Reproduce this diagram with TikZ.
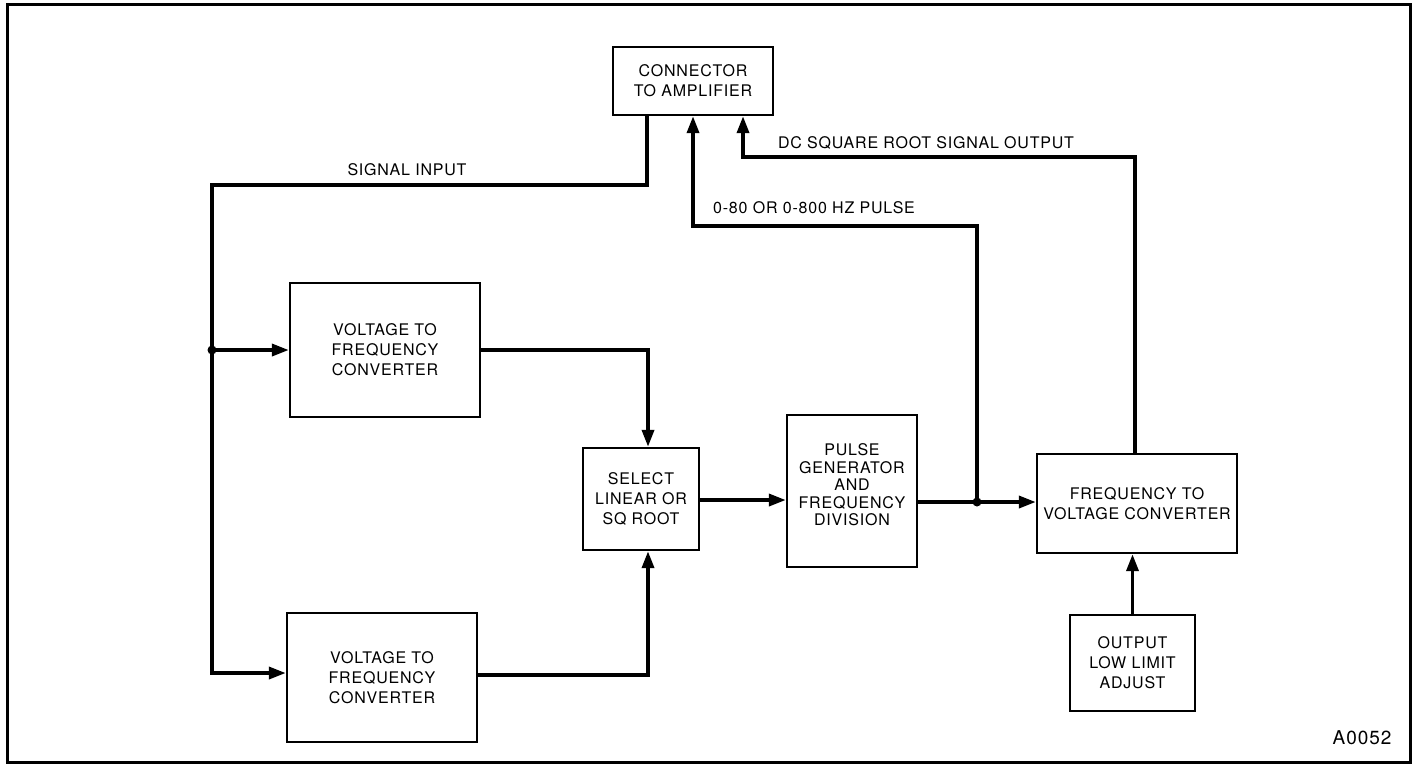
\documentclass[tikz,border=0pt]{standalone}
\usepackage{fontspec}
\setmainfont{TeX Gyre Heros}[LetterSpace=5]
\usetikzlibrary{arrows.meta,calc}
\begin{document}
\begin{tikzpicture}[x=1pt,y=-1pt,
  blk/.style={draw,line width=2.4pt,rectangle,inner sep=0pt,align=center,font=\fontsize{16}{20}\selectfont},
  wire/.style={line width=3.6pt,line join=miter},
  arr/.style={wire,-{Triangle[length=17pt,width=12pt]}},
  lbl/.style={font=\fontsize{16}{20}\selectfont,inner sep=0pt},
  dot/.style={circle,fill,inner sep=0pt,minimum size=9pt}]
\useasboundingbox (0,0) rectangle (1421,769);
\draw[line width=3pt] (7,4) rectangle (1410,762);
% blocks
\node[blk,minimum width=160pt,minimum height=68pt] (conn) at (693,81) {CONNECTOR\\TO AMPLIFIER};
\node[blk,minimum width=190pt,minimum height=134pt] (vfc1) at (385,350) {VOLTAGE TO\\FREQUENCY\\CONVERTER};
\node[blk,minimum width=190pt,minimum height=129pt] (vfc2) at (382,677.5) {VOLTAGE TO\\FREQUENCY\\CONVERTER};
\node[blk,minimum width=116pt,minimum height=102pt] (sel) at (641,499) {SELECT\\LINEAR OR\\SQ ROOT};
\node[blk,minimum width=130pt,minimum height=152pt] (pg) at (852,491) {};
\node[lbl,align=center,font=\fontsize{16}{17.5}\selectfont] (pgt) at (852,485) {PULSE\\GENERATOR\\AND\\FREQUENCY\\DIVISION};
\node[blk,minimum width=200pt,minimum height=99pt] (fvc) at (1137,503.5) {FREQUENCY TO\\VOLTAGE CONVERTER};
\node[blk,minimum width=125pt,minimum height=96pt] (olla) at (1132.5,663) {OUTPUT\\LOW LIMIT\\ADJUST};
% labels
\node[lbl] (lsig) at (407,170) {SIGNAL INPUT};
\node[lbl] (lpul) at (814,208) {0-80 OR 0-800 HZ PULSE};
\node[lbl] (ldc) at (926,143) {DC SQUARE ROOT SIGNAL OUTPUT};
\node[lbl,font=\fontsize{19}{22}\selectfont] (code) at (1362,738) {A0052};
% junctions
\coordinate (jin) at (212,350);
\coordinate (jpg) at (977,502);
\node[dot] (djin) at (jin) {};
\node[dot] (djpg) at (jpg) {};
% signal input
\draw[wire] ([xshift=-46pt]conn.south) |- (212,185) -- (jin);
\draw[arr] (jin) -- (jin -| vfc1.west);
\draw[arr] (jin) |- (vfc2.west |- 0,673);
% converters to select
\draw[arr] (vfc1.east) -| ([xshift=7pt]sel.north);
\draw[arr] (vfc2.east |- 0,675) -| ([xshift=7pt]sel.south);
\draw[arr] (sel.east |- 0,500) -- (pg.west |- 0,500);
\draw[arr] (pg.east |- jpg) -- (fvc.west |- jpg);
% pulse output to connector
\draw[arr] (jpg) |- (693,226) -- (conn.south);
% DC output to connector
\draw[arr] (fvc.north -| 1135,0) |- (743,157) -- ([xshift=50pt]conn.south);
% low limit adjust
\draw[arr] (olla.north) -- (fvc.south -| olla.north);
\end{tikzpicture}
\end{document}
